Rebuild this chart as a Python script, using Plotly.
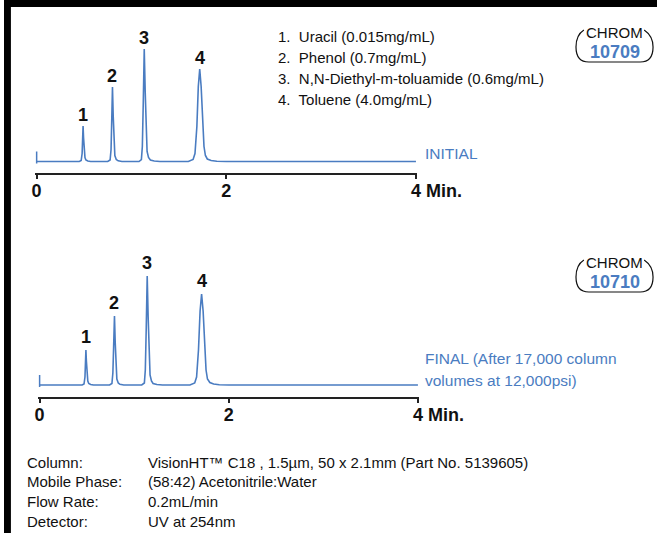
import plotly.graph_objects as go

W, H = 661, 533

# chromatogram traces (time in min, signal in arbitrary units above baseline)
top_time = [0, 0, 0, 0.45, 0.47, 0.48, 0.485, 0.49, 0.495, 0.50, 0.51, 0.52, 0.54, 0.57,
            0.75, 0.775, 0.785, 0.792, 0.80, 0.808, 0.815, 0.825, 0.84, 0.86, 0.90,
            1.08, 1.105, 1.115, 1.125, 1.135, 1.145, 1.155, 1.165, 1.18, 1.20, 1.24, 1.30,
            1.60, 1.65, 1.67, 1.69, 1.705, 1.72, 1.735, 1.75, 1.765, 1.78, 1.80, 1.84, 1.90, 2.0,
            4.0]
top_signal = [10, -2, 0, 0, 1, 8, 20, 35.5, 24, 12, 4, 1.5, 0.5, 0,
              0, 1.5, 12, 40, 74.5, 45, 18, 6, 2, 0.7, 0,
              0, 2, 15, 60, 112.5, 70, 30, 10, 4, 1.5, 0.5, 0,
              0, 2, 8, 35, 75, 92.5, 75, 40, 15, 6, 2.5, 1, 0.3, 0,
              0]

bottom_time = [0, 0, 0, 0.45, 0.47, 0.48, 0.485, 0.49, 0.495, 0.50, 0.51, 0.52, 0.54, 0.57,
               0.74, 0.765, 0.775, 0.783, 0.792, 0.80, 0.807, 0.817, 0.832, 0.85, 0.89,
               1.08, 1.108, 1.118, 1.128, 1.138, 1.148, 1.158, 1.168, 1.183, 1.20, 1.24, 1.30,
               1.59, 1.64, 1.66, 1.68, 1.697, 1.713, 1.729, 1.745, 1.76, 1.775, 1.80, 1.84, 1.90, 2.0,
               4.0]
bottom_signal = [10, -2, 0, 0, 1, 8, 20, 35, 24, 12, 4, 1.5, 0.5, 0,
                 0, 1.5, 12, 38, 69, 42, 17, 6, 2, 0.7, 0,
                 0, 2, 15, 58, 109, 68, 29, 10, 4, 1.5, 0.5, 0,
                 0, 2, 8, 35, 74, 91, 74, 40, 15, 6, 2.5, 1, 0.3, 0,
                 0]

peak_ids = ['1', '2', '3', '4']
top_peak_time = [0.49, 0.80, 1.135, 1.72]
top_peak_height = [35.5, 74.5, 112.5, 92.5]
bottom_peak_time = [0.49, 0.792, 1.138, 1.713]
bottom_peak_height = [35, 69, 109, 91]

tick_vals = [0, 2, 4]
tick_text = ['0', '2', '4']

compounds = ['1.  Uracil (0.015mg/mL)',
             '2.  Phenol (0.7mg/mL)',
             '3.  N,N-Diethyl-m-toluamide (0.6mg/mL)',
             '4.  Toluene (4.0mg/mL)']

cond_labels = ['Column:', 'Mobile Phase:', 'Flow Rate:', 'Detector:']
cond_values = ['VisionHT\u2122 C18 , 1.5\u00b5m, 50 x 2.1mm (Part No. 5139605)',
               '(58:42) Acetonitrile:Water',
               '0.2mL/min',
               'UV at 254nm']

BLUE = '#4a7cc1'
INK = '#111111'
FONT = 'Liberation Sans, Arial'


def px(x):
    return x / W


def py(y):
    return 1 - y / H


def note(x, y, text, size=15, color=INK, xanchor='left', **kw):
    return dict(x=px(x), y=py(y), xref='paper', yref='paper', text=text, showarrow=False,
                xanchor=xanchor, yanchor='middle', font=dict(size=size, color=color), **kw)


fig = go.Figure()
fig.add_trace(go.Scatter(x=top_time, y=top_signal, mode='lines', hoverinfo='skip',
                         line=dict(color=BLUE, width=1.6), xaxis='x', yaxis='y'))
fig.add_trace(go.Scatter(x=bottom_time, y=bottom_signal, mode='lines', hoverinfo='skip',
                         line=dict(color=BLUE, width=1.6), xaxis='x2', yaxis='y2'))

axis_common = dict(
    showline=True, linecolor='#222222', linewidth=1.5,
    ticks='outside', ticklen=4, tickcolor='#222222', tickwidth=1.5,
    tickvals=tick_vals, ticktext=['<b>%s</b>' % t for t in tick_text],
    tickfont=dict(size=18, color=INK, family=FONT), ticklabelstandoff=-3,
    showgrid=False, zeroline=False, fixedrange=True,
)

pad = 0.012
fig.update_layout(
    width=W, height=H,
    margin=dict(l=0, r=0, t=0, b=0),
    paper_bgcolor='white', plot_bgcolor='white',
    showlegend=False,
    font=dict(family=FONT, color=INK),
    xaxis=dict(domain=[px(33 - pad * 96), px(417 + pad * 96)], range=[-pad, 4 + pad],
               anchor='y', **axis_common),
    yaxis=dict(domain=[py(173), py(39)], range=[-11.5, 122.5], visible=False),
    xaxis2=dict(domain=[px(36 - pad * 96), px(419 + pad * 96)], range=[-pad, 4 + pad],
                anchor='y2', **axis_common),
    yaxis2=dict(domain=[py(397), py(263)], range=[-12, 122], visible=False),
)

ann = []
for pid, t, h in zip(peak_ids, top_peak_time, top_peak_height):
    ann.append(dict(x=t, y=h, xref='x', yref='y', text='<b>%s</b>' % pid, showarrow=False,
                    xanchor='center', yanchor='middle', yshift=11, font=dict(size=18, color=INK)))
for pid, t, h in zip(peak_ids, bottom_peak_time, bottom_peak_height):
    ann.append(dict(x=t, y=h, xref='x2', yref='y2', text='<b>%s</b>' % pid, showarrow=False,
                    xanchor='center', yanchor='middle', yshift=13, font=dict(size=18, color=INK)))

# "Min." after the last tick
for xr, yy in [('x', 191), ('x2', 415)]:
    ann.append(dict(x=4, y=py(yy), xref=xr, yref='paper', text='<b>Min.</b>', showarrow=False,
                    xanchor='left', yanchor='middle', xshift=8, font=dict(size=18, color=INK)))

for i, c in enumerate(compounds):
    ann.append(note(275, 37 + 21 * i, c))

ann.append(note(424, 154, 'INITIAL', size=15.5, color=BLUE))
ann.append(note(424, 358, 'FINAL (After 17,000 column', size=15.5, color=BLUE))
ann.append(note(424, 380, 'volumes at 12,000psi)', size=15.5, color=BLUE))

for i, (lab, val) in enumerate(zip(cond_labels, cond_values)):
    yy = 462 + 19.7 * i
    ann.append(note(21, yy, lab))
    ann.append(note(144, yy, val))

shapes = []
# CHROM badges
for dy, num in [(0, '10709'), (230, '10710')]:
    ann.append(note(618, 32 + dy, 'CHROM', size=15, xanchor='center'))
    ann.append(note(618, 52 + dy, '<b>%s</b>' % num, size=18, color=BLUE, xanchor='center'))
    pts = [(587, 30), (579, 35), (579, 47), (579, 62), (592, 62), (644, 62),
           (657, 62), (657, 47), (657, 36), (648, 30)]
    p = [(px(x), py(y + dy)) for x, y in pts]
    path = ('M %f,%f Q %f,%f %f,%f Q %f,%f %f,%f L %f,%f Q %f,%f %f,%f Q %f,%f %f,%f'
            % tuple(v for pt in p for v in pt))
    shapes.append(dict(type='path', xref='paper', yref='paper', path=path,
                       line=dict(color=INK, width=1.2)))

# black frame edges
shapes.append(dict(type='rect', xref='paper', yref='paper', x0=0, x1=1, y0=py(7), y1=1,
                   fillcolor='black', line=dict(width=0), layer='above'))
shapes.append(dict(type='rect', xref='paper', yref='paper', x0=0, x1=px(7), y0=0, y1=1,
                   fillcolor='black', line=dict(width=0), layer='above'))

fig.update_layout(annotations=ann, shapes=shapes)

fig.write_html('out.html', config={'displayModeBar': False},
               post_script="document.body.style.margin='0';")
